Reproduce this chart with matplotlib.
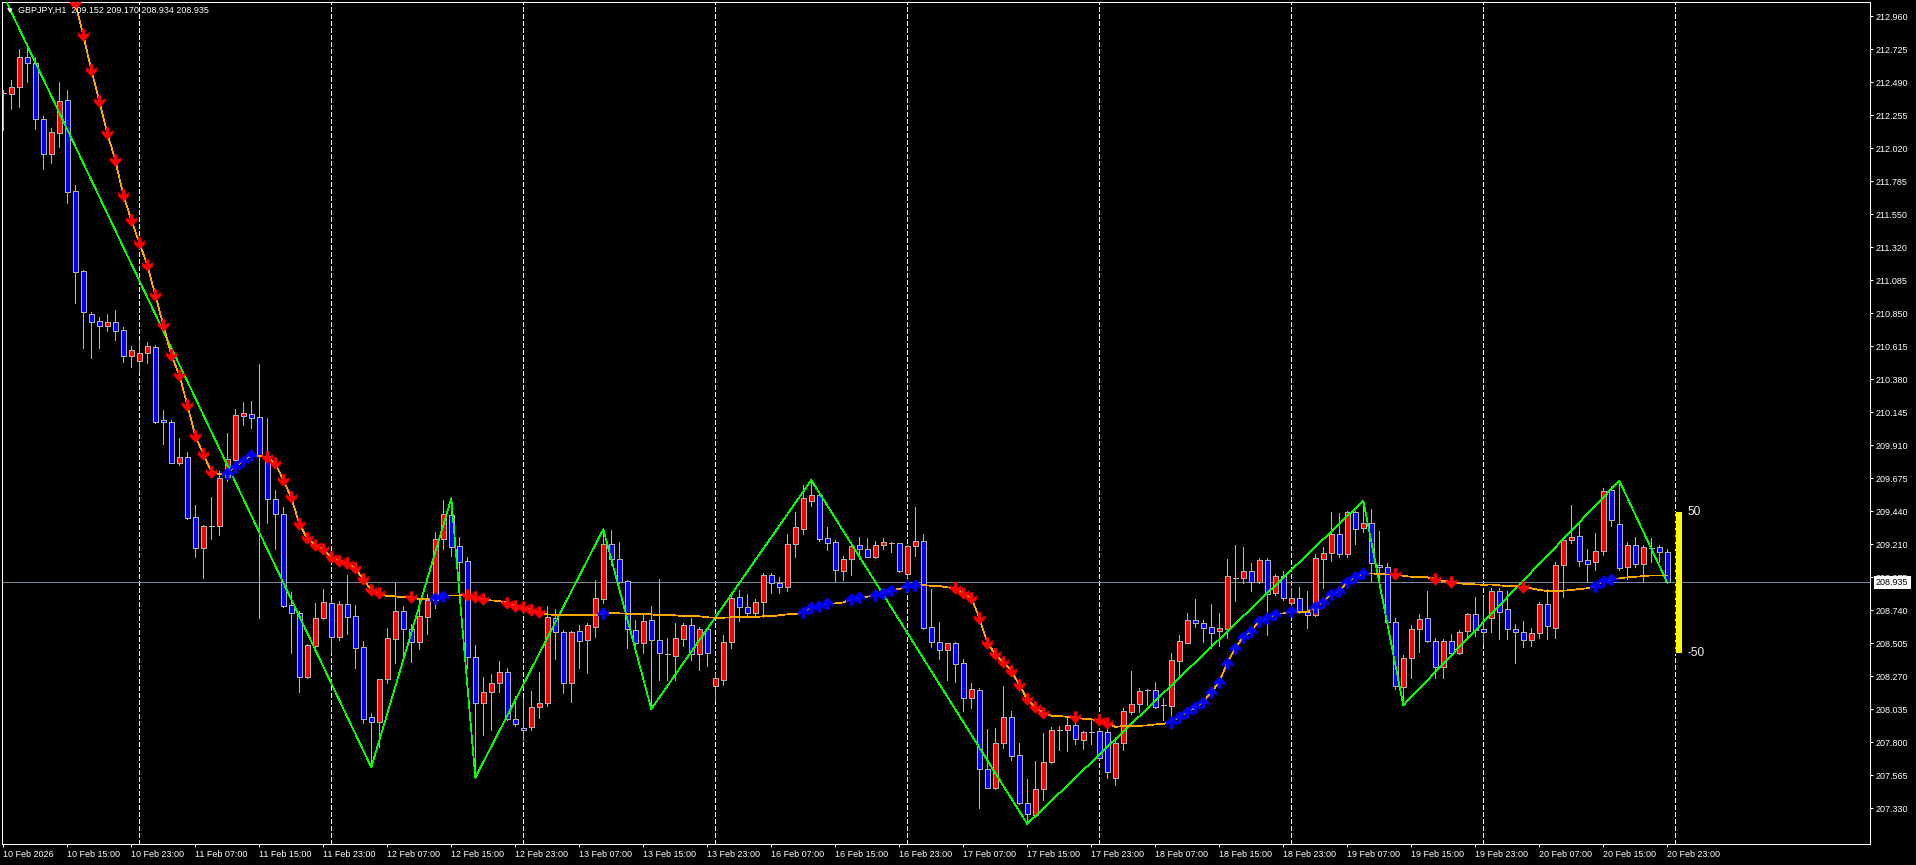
import numpy as np
import matplotlib
matplotlib.use("Agg")
import matplotlib.pyplot as plt
from matplotlib.patches import Rectangle, Polygon
from matplotlib.path import Path
from matplotlib.collections import LineCollection

plt.rcParams['font.family'] = ['Liberation Sans', 'DejaVu Sans']
plt.rcParams['lines.scale_dashes'] = False

symbol = "GBPJPY,H1"

opens = [212.418, 212.408, 212.456, 212.669, 212.627, 212.229, 211.980, 212.129, 212.366, 211.716,
         211.147, 210.842, 210.792, 210.761, 210.785, 210.730, 210.547, 210.512, 210.564, 210.607,
         210.090, 210.074, 209.786, 209.827, 209.400, 209.182, 209.336, 209.338, 209.687, 209.805,
         210.120, 210.130, 210.111, 209.836, 209.526, 209.421, 208.774, 208.715, 208.260, 208.485,
         208.679, 208.786, 208.544, 208.779, 208.696, 208.475, 207.975, 207.944, 208.246, 208.534,
         208.729, 208.603, 208.513, 208.691, 208.810, 209.246, 209.412, 209.194, 209.085, 208.402,
         208.075, 208.157, 208.217, 208.295, 207.961, 207.901, 207.908, 208.046, 208.075, 208.679,
         208.580, 208.221, 208.587, 208.523, 208.620, 208.819, 209.206, 209.103, 208.943, 208.596,
         208.506, 208.665, 208.523, 208.425, 208.413, 208.534, 208.630, 208.423, 208.601, 208.200,
         208.241, 208.509, 208.829, 208.758, 208.719, 208.793, 208.985, 208.928, 208.904, 209.206,
         209.317, 209.516, 209.556, 209.248, 209.222, 209.018, 209.099, 209.199, 209.170, 209.118,
         209.199, 209.217, 209.213, 208.997, 209.192, 209.231, 208.615, 208.513, 208.452, 208.502,
         208.359, 208.110, 208.169, 207.605, 207.470, 207.790, 207.979, 207.707, 207.364, 207.280,
         207.463, 207.655, 207.883, 207.883, 207.918, 207.814, 207.871, 207.876, 207.873, 207.544,
         207.795, 208.015, 208.068, 208.169, 208.167, 208.061, 208.058, 208.378, 208.506, 208.667,
         208.644, 208.615, 208.589, 208.603, 208.968, 208.968, 209.016, 208.938, 209.094, 208.857,
         208.980, 208.792, 208.822, 208.722, 208.705, 209.103, 209.146, 209.277, 209.135, 209.438,
         209.324, 209.355, 209.061, 209.042, 208.651, 208.193, 208.395, 208.603, 208.679, 208.520,
         208.331, 208.518, 208.435, 208.591, 208.708, 208.601, 208.679, 208.874, 208.743, 208.601,
         208.584, 208.525, 208.573, 208.779, 208.613, 209.056, 209.236, 209.263, 209.094, 209.078,
         209.160, 209.592, 209.348, 209.046, 209.201, 209.063, 209.182, 209.185, 209.152]

highs = [212.437, 212.508, 212.726, 212.769, 212.669, 212.252, 212.165, 212.494, 212.437, 211.759,
         211.157, 210.860, 210.825, 210.842, 210.872, 210.753, 210.616, 210.659, 210.645, 210.623,
         210.161, 210.090, 209.964, 209.862, 209.485, 209.343, 209.544, 209.729, 209.999, 210.168,
         210.218, 210.225, 210.488, 210.102, 209.592, 209.469, 208.864, 208.731, 208.497, 208.786,
         208.886, 208.810, 208.802, 208.987, 208.774, 208.518, 208.004, 208.246, 208.608, 208.933,
         208.767, 208.637, 208.822, 208.852, 209.295, 209.521, 209.533, 209.260, 209.113, 208.489,
         208.264, 208.281, 208.376, 208.324, 208.127, 208.110, 208.162, 208.297, 208.767, 208.743,
         208.596, 208.589, 208.632, 208.644, 208.952, 209.313, 209.308, 209.224, 208.952, 208.667,
         208.715, 208.767, 208.959, 208.537, 208.644, 208.644, 208.682, 208.620, 208.620, 208.288,
         208.561, 208.857, 208.881, 208.850, 208.815, 208.999, 208.999, 208.975, 209.277, 209.435,
         209.628, 209.663, 209.568, 209.331, 209.236, 209.123, 209.208, 209.260, 209.253, 209.229,
         209.248, 209.224, 209.217, 209.201, 209.473, 209.279, 208.888, 208.653, 208.506, 208.509,
         208.388, 208.217, 208.181, 207.892, 207.901, 208.198, 208.020, 207.790, 207.536, 207.664,
         207.862, 207.904, 207.913, 207.975, 207.979, 207.876, 207.956, 207.897, 207.897, 207.837,
         208.039, 208.305, 208.181, 208.174, 208.224, 208.110, 208.430, 208.561, 208.715, 208.817,
         208.667, 208.779, 208.715, 209.101, 209.201, 209.189, 209.075, 209.106, 209.110, 208.992,
         209.016, 208.893, 208.900, 208.874, 209.137, 209.189, 209.433, 209.426, 209.443, 209.443,
         209.516, 209.455, 209.300, 209.071, 208.679, 208.418, 208.632, 208.708, 208.874, 208.537,
         208.530, 208.568, 208.596, 208.719, 208.829, 208.833, 208.897, 208.893, 208.874, 208.639,
         208.660, 208.608, 208.797, 208.886, 209.078, 209.260, 209.485, 209.359, 209.170, 209.284,
         209.604, 209.620, 209.658, 209.224, 209.256, 209.201, 209.248, 209.201, 209.170]

lows = [212.152, 212.304, 212.318, 212.496, 212.162, 211.877, 211.920, 212.034, 211.631, 210.924,
        210.600, 210.529, 210.600, 210.725, 210.659, 210.504, 210.469, 210.433, 210.497, 210.066,
        209.919, 209.782, 209.770, 209.384, 209.113, 208.968, 209.243, 209.272, 209.656, 209.793,
        210.054, 210.035, 208.684, 209.359, 209.172, 208.758, 208.430, 208.157, 208.253, 208.473,
        208.672, 208.435, 208.525, 208.568, 208.328, 207.937, 207.620, 207.766, 208.217, 208.359,
        208.411, 208.371, 208.463, 208.568, 208.755, 209.172, 209.123, 208.952, 208.324, 207.546,
        207.849, 207.885, 208.153, 207.956, 207.913, 207.814, 207.885, 207.968, 208.056, 208.388,
        208.146, 208.086, 208.328, 208.288, 208.549, 208.790, 209.059, 208.928, 208.470, 208.477,
        208.430, 208.035, 208.241, 208.241, 208.241, 208.482, 208.383, 208.312, 208.340, 208.098,
        208.205, 208.470, 208.662, 208.691, 208.691, 208.691, 208.862, 208.862, 208.876, 209.118,
        209.279, 209.478, 209.229, 209.165, 208.945, 208.952, 208.987, 209.099, 209.113, 209.110,
        209.174, 209.153, 209.011, 208.975, 209.123, 208.605, 208.477, 208.390, 208.241, 208.224,
        208.022, 208.044, 207.332, 207.470, 207.463, 207.755, 207.672, 207.357, 207.217, 207.268,
        207.387, 207.648, 207.743, 207.738, 207.785, 207.750, 207.785, 207.672, 207.544, 207.494,
        207.743, 207.997, 208.015, 208.063, 208.039, 207.956, 207.897, 208.264, 208.502, 208.620,
        208.513, 208.470, 208.482, 208.537, 208.802, 208.933, 208.876, 208.928, 208.561, 208.845,
        208.810, 208.738, 208.715, 208.613, 208.698, 208.893, 209.087, 209.118, 209.118, 209.208,
        209.295, 208.945, 208.940, 208.644, 208.177, 208.061, 208.257, 208.442, 208.513, 208.257,
        208.257, 208.430, 208.425, 208.556, 208.554, 208.495, 208.580, 208.532, 208.532, 208.364,
        208.473, 208.485, 208.537, 208.532, 208.537, 208.833, 209.213, 209.051, 208.935, 209.023,
        209.130, 209.336, 209.023, 208.957, 209.046, 208.935, 209.082, 209.082, 208.934]

closes = [212.418, 212.456, 212.669, 212.627, 212.229, 211.980, 212.136, 212.357, 211.714, 211.145,
          210.856, 210.789, 210.761, 210.785, 210.725, 210.547, 210.588, 210.564, 210.614, 210.078,
          210.074, 209.786, 209.827, 209.395, 209.182, 209.336, 209.336, 209.677, 209.810, 210.125,
          210.140, 210.106, 209.836, 209.526, 209.419, 208.767, 208.715, 208.264, 208.487, 208.679,
          208.797, 208.544, 208.779, 208.691, 208.470, 207.965, 207.944, 208.246, 208.537, 208.729,
          208.605, 208.513, 208.696, 208.810, 209.241, 209.419, 209.189, 209.078, 208.402, 208.075,
          208.153, 208.221, 208.295, 207.961, 207.925, 207.885, 208.051, 208.075, 208.687, 208.580,
          208.221, 208.580, 208.516, 208.630, 208.822, 209.206, 209.099, 208.938, 208.601, 208.506,
          208.658, 208.523, 208.435, 208.425, 208.537, 208.630, 208.423, 208.601, 208.430, 208.253,
          208.509, 208.822, 208.758, 208.719, 208.793, 208.985, 208.928, 208.904, 209.206, 209.327,
          209.533, 209.556, 209.243, 209.217, 209.023, 209.099, 209.192, 209.170, 209.118, 209.199,
          209.220, 209.217, 209.018, 209.192, 209.231, 208.613, 208.513, 208.452, 208.502, 208.352,
          208.110, 208.179, 207.605, 207.470, 207.790, 207.977, 207.702, 207.364, 207.285, 207.463,
          207.655, 207.883, 207.883, 207.918, 207.819, 207.869, 207.871, 207.686, 207.586, 207.790,
          208.020, 208.070, 208.162, 208.169, 208.051, 208.061, 208.383, 208.516, 208.667, 208.644,
          208.613, 208.577, 208.608, 208.980, 208.968, 209.016, 208.935, 209.094, 208.850, 208.980,
          208.822, 208.822, 208.722, 208.705, 209.106, 209.146, 209.277, 209.135, 209.438, 209.317,
          209.355, 209.071, 209.042, 208.651, 208.200, 208.395, 208.603, 208.672, 208.520, 208.331,
          208.518, 208.435, 208.584, 208.708, 208.596, 208.580, 208.874, 208.726, 208.601, 208.584,
          208.525, 208.573, 208.779, 208.627, 209.056, 209.236, 209.255, 209.089, 209.063, 209.158,
          209.585, 209.379, 209.039, 209.201, 209.063, 209.185, 209.182, 209.153, 208.935]

ma_first_bar = 8
ma_values = [213.276, 213.054, 212.828, 212.579, 212.361, 212.129, 211.939, 211.690, 211.512, 211.351,
             211.192, 210.979, 210.765, 210.552, 210.410, 210.197, 209.976, 209.848, 209.722, 209.706,
             209.715, 209.758, 209.800, 209.841, 209.836, 209.825, 209.782, 209.663, 209.540, 209.350,
             209.248, 209.201, 209.170, 209.113, 209.090, 209.071, 209.035, 208.957, 208.881, 208.857,
             208.836, 208.836, 208.829, 208.829, 208.817, 208.815, 208.822, 208.838, 208.843, 208.843,
             208.845, 208.829, 208.817, 208.807, 208.802, 208.790, 208.767, 208.758, 208.738, 208.722,
             208.708, 208.703, 208.703, 208.701, 208.701, 208.701, 208.703, 208.715, 208.715, 208.715,
             208.712, 208.710, 208.708, 208.708, 208.701, 208.701, 208.701, 208.694, 208.694, 208.694,
             208.687, 208.684, 208.684, 208.687, 208.687, 208.687, 208.689, 208.694, 208.694, 208.701,
             208.708, 208.708, 208.726, 208.758, 208.767, 208.786, 208.786, 208.793, 208.815, 208.829,
             208.833, 208.845, 208.862, 208.881, 208.888, 208.907, 208.916, 208.916, 208.911, 208.909,
             208.900, 208.893, 208.857, 208.826, 208.684, 208.506, 208.423, 208.371, 208.307, 208.205,
             208.103, 208.046, 208.008, 207.987, 207.985, 207.979, 207.975, 207.965, 207.961, 207.954,
             207.933, 207.908, 207.913, 207.915, 207.915, 207.918, 207.925, 207.928, 207.944, 207.979,
             208.015, 208.046, 208.086, 208.153, 208.228, 208.364, 208.466, 208.549, 208.589, 208.662,
             208.679, 208.708, 208.715, 208.729, 208.726, 208.726, 208.762, 208.797, 208.850, 208.874,
             208.940, 208.971, 208.999, 208.999, 208.994, 208.992, 208.992, 208.982, 208.975, 208.975,
             208.971, 208.959, 208.945, 208.940, 208.928, 208.923, 208.921, 208.918, 208.920, 208.914,
             208.909, 208.909, 208.904, 208.893, 208.881, 208.874, 208.874, 208.876, 208.881, 208.888,
             208.893, 208.909, 208.947, 208.957, 208.964, 208.971, 208.975, 208.980, 208.985, 208.985,
             208.985]

down_arrow_bars = (list(range(9, 27)) + list(range(33, 48)) + [51, 58, 59, 60] + list(range(63, 68))
                   + list(range(119, 131)) + [134, 137, 138, 174, 179, 181, 190])
up_arrow_bars = ([28, 29, 30, 31, 54, 55, 75, 100, 101, 102, 103, 106, 107, 109, 110, 111, 113, 114]
                 + list(range(146, 160)) + [161] + list(range(164, 171)) + [199, 200, 201])

zz_bars = [-1, 46, 56, 59, 75, 81, 101, 128, 170, 175, 202, 208]
zz_prices = [213.23, 207.620, 209.533, 207.546, 209.313, 208.035, 209.663, 207.217, 209.516, 208.061,
             209.658, 208.934]

day_start_bars = [17, 41, 65, 89, 113, 137, 161, 185, 209]

time_tick_bars = list(range(0, 209, 8))
time_labels = ["10 Feb 2026", "10 Feb 15:00", "10 Feb 23:00", "11 Feb 07:00", "11 Feb 15:00",
               "11 Feb 23:00", "12 Feb 07:00", "12 Feb 15:00", "12 Feb 23:00", "13 Feb 07:00",
               "13 Feb 15:00", "13 Feb 23:00", "16 Feb 07:00", "16 Feb 15:00", "16 Feb 23:00",
               "17 Feb 07:00", "17 Feb 15:00", "17 Feb 23:00", "18 Feb 07:00", "18 Feb 15:00",
               "18 Feb 23:00", "19 Feb 07:00", "19 Feb 15:00", "19 Feb 23:00", "20 Feb 07:00",
               "20 Feb 15:00", "20 Feb 23:00"]

price_labels = ["207.330", "207.565", "207.800", "208.035", "208.270", "208.505", "208.740", "208.975",
                "209.210", "209.440", "209.675", "209.910", "210.145", "210.380", "210.615", "210.850",
                "211.085", "211.320", "211.550", "211.785", "212.020", "212.255", "212.490", "212.725",
                "212.960"]
price_tick_low, price_tick_high = 207.330, 212.960

range_pips = 50
pip_size = 0.01

# ---------------- figure ----------------
W, H = 1916, 865
PX = 0.72  # one pixel in points at 100 dpi
fig = plt.figure(figsize=(W / 100, H / 100), dpi=100, facecolor='black')
ax = fig.add_axes([2 / W, 21 / H, 1868 / W, 842 / H])
ax.set_facecolor('black')
ax.set_xlim(-0.1625, 233.34)
ax.set_ylim(207.0745, 213.0631)

n = len(opens)
bull_col = '#ff0000'
bear_col = '#0000ff'
wick_col = '#b0b0b0'
bw = 0.62

# separators
for b in day_start_bars:
    ax.axvline(b, color='white', lw=PX, ls=(0, (2.9, 1.45)), zorder=1, antialiased=False)

# bid line
ax.axhline(closes[-1], color='#778899', lw=PX, zorder=1.5, antialiased=False)

# candles
wick_segs = [((i, lows[i]), (i, highs[i])) for i in range(n)]
ax.add_collection(LineCollection(wick_segs, colors=wick_col, linewidths=PX, zorder=2,
                                 antialiaseds=False))
for i in range(n):
    o, c = opens[i], closes[i]
    if abs(c - o) < 1e-9:
        ax.plot([i - bw / 2, i + bw / 2], [o, o], color=wick_col, lw=PX, zorder=3,
                antialiased=False, solid_capstyle='butt')
    else:
        col = bull_col if c > o else bear_col
        ax.add_patch(Rectangle((i - bw / 2, min(o, c)), bw, abs(c - o), facecolor=col,
                               edgecolor=wick_col, lw=PX * 0.8, zorder=3, antialiased=False))

# zigzag
ax.plot(zz_bars, zz_prices, color='#00ff00', lw=0.5, zorder=4, antialiased=False)

# moving average
ma_x = np.arange(ma_first_bar, ma_first_bar + len(ma_values))
ax.plot(ma_x, ma_values, color='#ffa500', lw=0.5, zorder=5, antialiased=False)

down_verts = [(-0.13, 0.5), (0.13, 0.5), (0.13, 0.02), (0.46, 0.24), (0.46, -0.02), (0.0, -0.5),
              (-0.46, -0.02), (-0.46, 0.24), (-0.13, 0.02), (-0.13, 0.5)]
codes = [Path.MOVETO] + [Path.LINETO] * 8 + [Path.CLOSEPOLY]
down_path = Path(down_verts, codes)
up_path = Path([(x, -y) for x, y in down_verts], codes)

ma_dict = dict(zip(ma_x.tolist(), ma_values))
ax.plot(down_arrow_bars, [ma_dict[b] for b in down_arrow_bars], ls='none', marker=down_path,
        ms=8.5, color='#ff0000', mec='#ff0000', mew=0.3, zorder=6)
ax.plot(up_arrow_bars, [ma_dict[b] for b in up_arrow_bars], ls='none', marker=up_path,
        ms=8.5, color='#0000ff', mec='#0000ff', mew=0.3, zorder=6)

# range bar (+/- 50 pips around last price)
top = closes[-1] + range_pips * pip_size
bot = closes[-1] - range_pips * pip_size
ax.add_patch(Rectangle((n, bot), 0.875, top - bot, facecolor='#ffff00', edgecolor='none', zorder=6))
ax.plot([n, n], [bot, top], color='#1010a0', lw=PX, ls=(0, (2.9, 1.45)), zorder=7, antialiased=False)
ax.text(n + 1.55, top, f"{range_pips}", color='#f0f0f0', fontsize=8.6, va='center', ha='left', zorder=7)
ax.text(n + 1.55, bot, f"-{range_pips}", color='#f0f0f0', fontsize=8.6, va='center', ha='left', zorder=7)

# axes styling
for s in ax.spines.values():
    s.set_color('white')
    s.set_linewidth(PX)

ax.yaxis.tick_right()
ax.set_yticks(np.linspace(price_tick_low, price_tick_high, len(price_labels)))
ax.set_yticklabels(price_labels)
ax.tick_params(axis='y', colors='white', length=2.2, width=PX, pad=2, labelsize=6.5,
               left=False, right=True, labelleft=False, labelright=True)

ax.set_xticks(time_tick_bars)
ax.set_xticklabels(time_labels, ha='left')
ax.tick_params(axis='x', colors='white', length=2.2, width=PX, pad=2, labelsize=6.5)

# current price box
ax.annotate(f"{closes[-1]:.3f}", xy=(1, closes[-1]), xycoords=('axes fraction', 'data'),
            xytext=(6, 0), textcoords='offset pixels', va='center', ha='left', fontsize=6.5,
            color='black', bbox=dict(boxstyle='square,pad=0.25', fc='white', ec='none'),
            zorder=10, annotation_clip=False)

# header
fig.text(18.3 / W, 1 - 10.7 / H,
         f"{symbol}  {opens[-1]:.3f} {highs[-1]:.3f} {lows[-1]:.3f} {closes[-1]:.3f}",
         color='white', fontsize=6.5, va='center', ha='left')
fig.patches.append(Polygon([(7 / W, 1 - 8.3 / H), (12.7 / W, 1 - 8.3 / H), (9.85 / W, 1 - 12.7 / H)],
                           closed=True, facecolor='white', edgecolor='none',
                           transform=fig.transFigure, figure=fig))

fig.savefig('out.png', dpi=100, facecolor='black')
